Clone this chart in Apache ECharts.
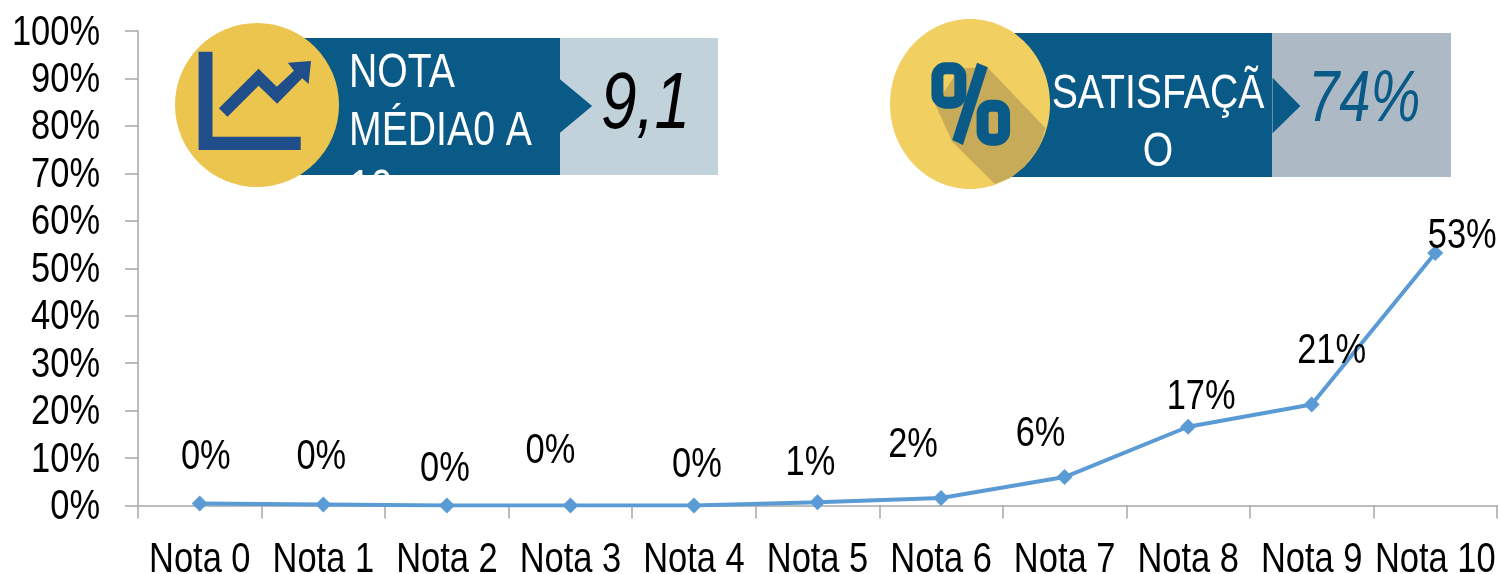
<!DOCTYPE html>
<html><head><meta charset="utf-8">
<style>html,body{margin:0;padding:0;background:#fff}#c{width:1499px;height:574px}</style>
<script src="https://cdn.jsdelivr.net/npm/echarts@6/dist/echarts.min.js"></script></head>
<body><div id="c"></div>
<script>
const categories = ['Nota 0','Nota 1','Nota 2','Nota 3','Nota 4','Nota 5','Nota 6','Nota 7','Nota 8','Nota 9','Nota 10'];
const shares = [0.4,0.2,0,0,0,0.7,1.6,6,16.6,21.3,53.2];
const labels = ['0%','0%','0%','0%','0%','1%','2%','6%','17%','21%','53%'];
const yTicks = [0,10,20,30,40,50,60,70,80,90,100];
const labelOffsets = [[6,-48],[-2,-49],[-2,-38],[-20,-56],[3,-42],[-7,-41],[-28,-54],[-24,-45],[13,-31],[20,-55],[27,-19]];
const FONT = '"Liberation Sans",Arial,sans-serif';
const NARROW = 0.82, CARD_NARROW = 0.8, LABEL_SIZE = 42;
const DARK = '#0a5a87', NAVY = '#1f4e8a';

const chart = echarts.init(document.getElementById('c'), null, {renderer:'canvas'});
const zx1 = x => 170 + x/2.8, zy = y => 10 + y/3, zx2 = x => 880 + x/2.7;
const poly = (pts, zx, fill, z) => ({type:'polygon', z, silent:true,
  shape:{points:pts.map(p=>[zx(p[0]),zy(p[1])])}, style:{fill}});
const txt = (x,y,text,size,fill,z,extra,sx) => ({type:'text', z, x, y, scaleX:sx||CARD_NARROW, silent:true,
  style:Object.assign({text, font:size+'px '+FONT, fill, textBaseline:'top'}, extra||{})});
const rect = (x,y,w,h,fill,z) => ({type:'rect', z, silent:true, shape:{x,y,width:w,height:h}, style:{fill}});

const graphic = [
  rect(300,38,260,137,DARK,10),
  rect(560,38,158,137,'#c1d2da',10),
  poly([[1092,208],[1182,288],[1092,368]],zx1,DARK,11),
  txt(349,49,'NOTA',49,'#fff',12),
  txt(349,107,'MÉDIA0 A',49,'#fff',12),
  txt(349,165,'10',49,'#fff',12),
  rect(296,175,270,50,'#fff',13),
  {type:'circle', z:14, silent:true, shape:{cx:257,cy:105,r:82}, style:{fill:'#ecc54e'}},
  poly([[80,125],[119,125],[119,380],[366,380],[366,420],[80,420]],zx1,NAVY,15),
  poly([[137,295],[248,176],[299,230],[347,182],[330,158],[395,153],[388,222],[370,205],[300,281],[248,227],[161,320]],zx1,NAVY,15),
  txt(601,66,'9,1',80,'#000',12,{font:'italic 80px '+FONT}),
  rect(1005,33,267,144,DARK,10),
  rect(1272,33,179,144,'#adbac5',10),
  poly([[1060,203],[1135,288],[1060,370]],zx2,DARK,11),
  txt(1158,70,'SATISFAÇÃ',49,'#fff',12,{textAlign:'center'}),
  txt(1158,128,'O',49,'#fff',12,{textAlign:'center'}),
  {type:'ellipse', z:14, silent:true, shape:{cx:970,cy:104,rx:80,ry:85}, style:{fill:'#f1cf60'}},
  poly([[215,175],[290,172],[447,355],[430,410],[390,470],[350,505],[310,522],[195,395],[150,285]],zx2,'#c8ab58',15),
  poly([[262,158],[291,172],[224,405],[195,390]],zx2,DARK,16),
  {type:'rect', z:16, silent:true, shape:{x:zx2(155),y:zy(175),width:62/2.7,height:103/3,r:8}, style:{fill:'none',stroke:DARK,lineWidth:12}},
  {type:'rect', z:16, silent:true, shape:{x:zx2(277),y:zy(287),width:58/2.7,height:102/3,r:8}, style:{fill:'none',stroke:DARK,lineWidth:12}},
  txt(1308,65,'74%',72,DARK,12,{font:'italic 72px '+FONT},0.78)
];

const label = (x,y,text,align) => ({type:'text', x, y, scaleX:NARROW, silent:true,
  style:{text, x:0, y:0, font:LABEL_SIZE+'px '+FONT, fill:'#000', textAlign:align, textVerticalAlign:'middle'}});

chart.setOption({
  animation:false,
  backgroundColor:'#fff',
  grid:{left:138,right:2,top:31,bottom:68.5,containLabel:false},
  xAxis:{type:'category',data:categories,boundaryGap:true,
    axisLine:{lineStyle:{color:'#a6a6a6',width:1.5}},
    axisTick:{show:true,length:13,alignWithLabel:false,lineStyle:{color:'#a6a6a6',width:1.5}},
    axisLabel:{show:false}},
  yAxis:{type:'value',min:yTicks[0],max:yTicks[yTicks.length-1],interval:10,splitLine:{show:false},
    axisLine:{show:true,lineStyle:{color:'#a6a6a6',width:1.5}},
    axisTick:{show:true,length:13,lineStyle:{color:'#a6a6a6',width:1.5}},
    axisLabel:{show:false}},
  series:[
    {type:'line',symbol:'diamond',symbolSize:16,silent:true,z:3,
     lineStyle:{color:'#5b9bd5',width:4},itemStyle:{color:'#5b9bd5'},data:shares},
    {type:'custom',name:'categoryLabels',silent:true,clip:false,z:4,data:categories.map((c,i)=>[i,0]),
     renderItem:(p,api)=>{const c=api.coord([api.value(0),0]);return label(c[0],c[1]+55,categories[p.dataIndex],'center');}},
    {type:'custom',name:'valueLabels',silent:true,clip:false,z:4,data:yTicks.map(v=>[0,v]),
     renderItem:(p,api)=>{const c=api.coord([0,api.value(1)]);return label(100,c[1]+2,yTicks[p.dataIndex]+'%','right');}},
    {type:'custom',name:'pointLabels',silent:true,clip:false,z:5,data:shares.map((v,i)=>[i,v]),
     renderItem:(p,api)=>{const c=api.coord([api.value(0),api.value(1)]),o=labelOffsets[p.dataIndex];
       return label(c[0]+o[0],c[1]+o[1]+2,labels[p.dataIndex],'center');}}
  ],
  graphic:{elements:graphic}
});
</script></body></html>
